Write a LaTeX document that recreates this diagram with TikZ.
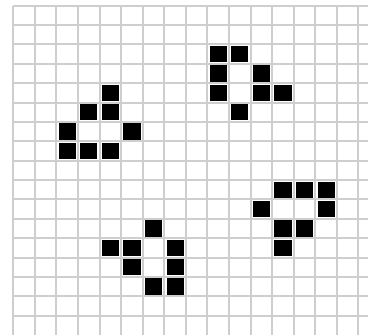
\documentclass[tikz,border=0pt]{standalone}
\begin{document}
\begin{tikzpicture}[x=1pt,y=-1pt,
  gridline/.style={draw={rgb,255:red,206;green,206;blue,206},line width=2pt},
  livecell/.style={fill=black}]
\useasboundingbox (0,0) rectangle (368,335);
\fill[white] (0,0) rectangle (368,335);
\def\cellw{21.575}
\def\cellh{19.375}
\foreach \k in {0,...,16} {
  \pgfmathsetmacro\gx{round(13.3+\k*\cellw)}
  \draw[gridline] (\gx,6) -- (\gx,335);
}
\foreach \k in {0,...,16} {
  \pgfmathsetmacro\gy{round(5.7+\k*\cellh)}
  \draw[gridline] (13,\gy) -- (368,\gy);
}
\foreach \c/\r in {4/4,3/5,4/5,2/6,5/6,2/7,3/7,4/7,
                   9/2,10/2,9/3,11/3,9/4,11/4,12/4,10/5,
                   6/11,4/12,5/12,7/12,5/13,7/13,6/14,7/14,
                   12/9,13/9,14/9,11/10,14/10,12/11,13/11,12/12}
  \fill[livecell] ({13.3+(\c+0.5)*\cellw-8.6},{5.7+(\r+0.5)*\cellh-8.2}) rectangle ++(17.2,16.4);
\end{tikzpicture}
\end{document}
